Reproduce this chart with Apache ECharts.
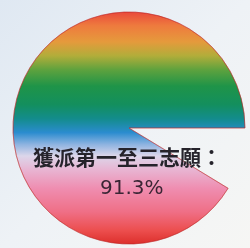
<!DOCTYPE html>
<html>
<head>
    <meta charset="utf-8"/>
    <script src="https://cdn.jsdelivr.net/npm/echarts@6/dist/echarts.min.js"></script>
    <style>
        html, body { margin: 0; padding: 0; }
    </style>
</head>
<body>
<div id="main" style="width: 250px; height: 248px;"></div>
<script type="text/javascript">
    // 志願分派比例
    var names = ['獲派第一至三志願', '其他'];
    var values = [91.3, 8.7];
    var labelTitle = '獲派第一至三志願：';
    var labelValue = '91.3%';

    var chart = echarts.init(document.getElementById('main'));

    // 彩虹漸層 (由上到下)
    var rainbow = new echarts.graphic.LinearGradient(0, 0, 0, 1, [
        {offset: 0.00, color: '#e9473b'},
        {offset: 0.06, color: '#ee7a3e'},
        {offset: 0.13, color: '#e59a3c'},
        {offset: 0.19, color: '#b2ad3a'},
        {offset: 0.25, color: '#5ea23e'},
        {offset: 0.32, color: '#1f9448'},
        {offset: 0.40, color: '#138f5e'},
        {offset: 0.46, color: '#138c8c'},
        {offset: 0.52, color: '#2b8ccf'},
        {offset: 0.57, color: '#8db3e0'},
        {offset: 0.62, color: '#dcd6ea'},
        {offset: 0.68, color: '#e8b4d2'},
        {offset: 0.76, color: '#ef8db0'},
        {offset: 0.86, color: '#ef6f86'},
        {offset: 0.94, color: '#ec4e4e'},
        {offset: 1.00, color: '#dc2e2a'}
    ]);

    var option = {
        backgroundColor: new echarts.graphic.LinearGradient(0, 0, 1, 1, [
            {offset: 0, color: '#dfe8f2'},
            {offset: 0.5, color: '#eef2f6'},
            {offset: 1, color: '#f6f6f4'}
        ]),
        series: [
            {
                name: '志願',
                type: 'pie',
                radius: 116,
                center: [129, 128],
                startAngle: 0,
                clockwise: true,
                silent: true,
                z: 1,
                label: {show: false},
                labelLine: {show: false},
                data: [
                    {name: names[1], value: values[1], itemStyle: {color: 'rgba(0,0,0,0)'}},
                    {
                        name: names[0], value: values[0],
                        itemStyle: {
                            color: rainbow,
                            borderColor: 'rgba(190,40,40,0.4)',
                            borderWidth: 1
                        }
                    }
                ]
            }
        ],
        graphic: [
            {
                type: 'text',
                z: 100,
                left: 33,
                top: 147,
                style: {
                    text: labelTitle,
                    font: 'bold 21px "Noto Sans CJK TC"',
                    fill: '#25232b'
                }
            },
            {
                type: 'text',
                z: 100,
                left: 100,
                top: 179,
                style: {
                    text: labelValue,
                    font: '20px "DejaVu Sans", sans-serif',
                    fill: '#3a2534'
                }
            }
        ]
    };

    chart.setOption(option);
</script>
</body>
</html>
